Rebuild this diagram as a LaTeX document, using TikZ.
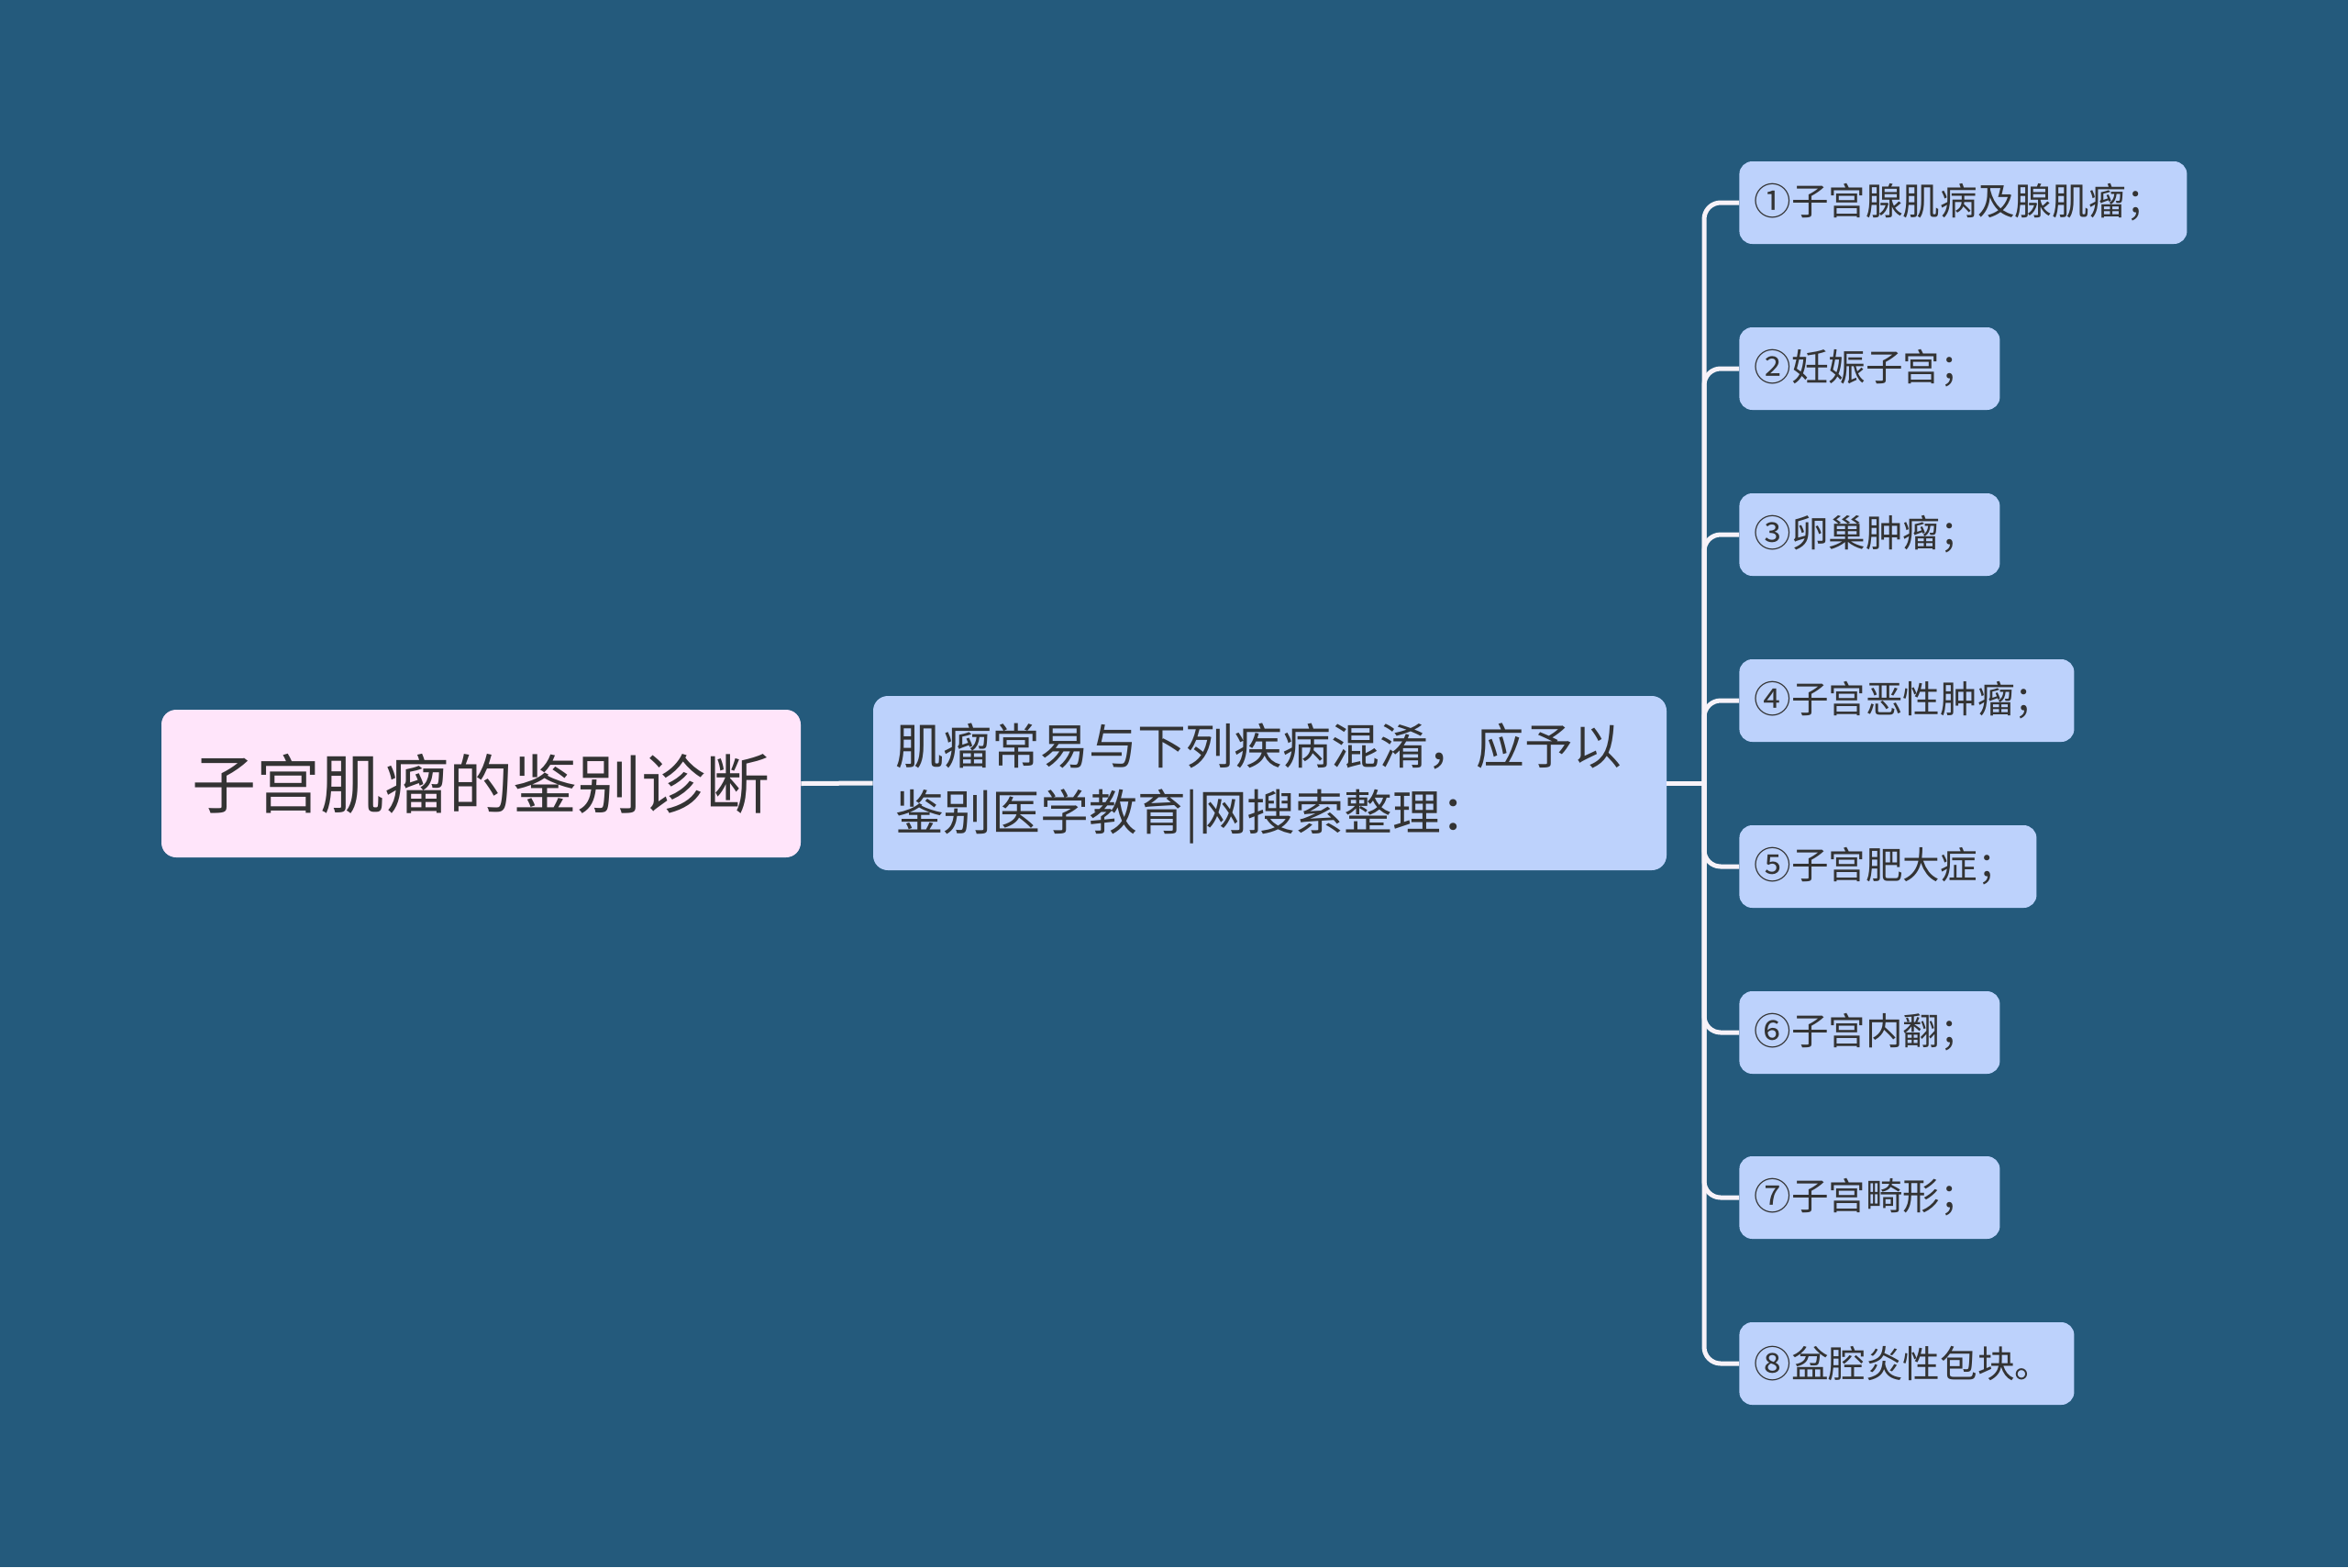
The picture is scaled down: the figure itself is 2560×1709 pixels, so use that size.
\documentclass[tikz,border=0pt]{standalone}
\usepackage{fontspec}
\setmainfont{Noto Sans CJK SC}
\usetikzlibrary{positioning}
\definecolor{bgc}{HTML}{245A7C}
\definecolor{rootc}{HTML}{FFE5FA}
\definecolor{leafc}{HTML}{BDD2FC}
\definecolor{txtc}{HTML}{333333}
\definecolor{linec}{HTML}{F7F2F8}
\begin{document}
\begin{tikzpicture}[x=0.5pt,y=-0.5pt,
  rootbox/.style={fill=rootc,rounded corners=8pt,text=txtc,minimum width=348.5pt,minimum height=80.5pt,inner sep=0pt,font=\fontsize{35}{42}\selectfont},
  midbox/.style={fill=leafc,rounded corners=8pt,text=txtc,text width=408.5pt,align=left,minimum height=95pt,inner xsep=12pt,inner ysep=0pt,font=\fontsize{26.4}{36}\selectfont},
  leafbox/.style={fill=leafc,rounded corners=7pt,text=txtc,align=left,minimum height=45pt,inner xsep=8pt,inner ysep=0pt,anchor=west,font=\fontsize{20.3}{24}\selectfont},
  conn/.style={draw=linec,line width=2.5pt}
]
\fill[bgc] (0,0) rectangle (2560,1709);
\useasboundingbox (0,0) rectangle (2560,1709);
\node[rootbox] (root) at (524.5,854.5) {子宫肌瘤的鉴别诊断};
\node[midbox] (mid) at (1384.5,854) {肌瘤常易与下列疾病混淆，应予以\\鉴别医学教育|网搜索整理：};
\node[leafbox,text width=228pt] (l1) at (1896,221) {①子宫腺肌病及腺肌瘤；};
\node[leafbox,text width=126pt] (l2) at (1896,402) {②妊娠子宫；};
\node[leafbox,text width=126pt] (l3) at (1896,583) {③卵巢肿瘤；};
\node[leafbox,text width=166.5pt] (l4) at (1896,764) {④子宫恶性肿瘤；};
\node[leafbox,text width=146pt] (l5) at (1896,945) {⑤子宫肥大症；};
\node[leafbox,text width=126pt] (l6) at (1896,1126) {⑥子宫内翻；};
\node[leafbox,text width=126pt] (l7) at (1896,1306) {⑦子宫畸形；};
\node[leafbox,text width=166.5pt] (l8) at (1896,1487) {⑧盆腔炎性包块。};
\coordinate (tr) at (1858,854);
\draw[conn] (root.east) -- (mid.west);
\draw[conn] (mid.east) -- (tr);
\foreach \k in {1,...,8}{
  \draw[conn,rounded corners=9pt] (tr) |- (l\k.west);
}
\end{tikzpicture}
\end{document}
